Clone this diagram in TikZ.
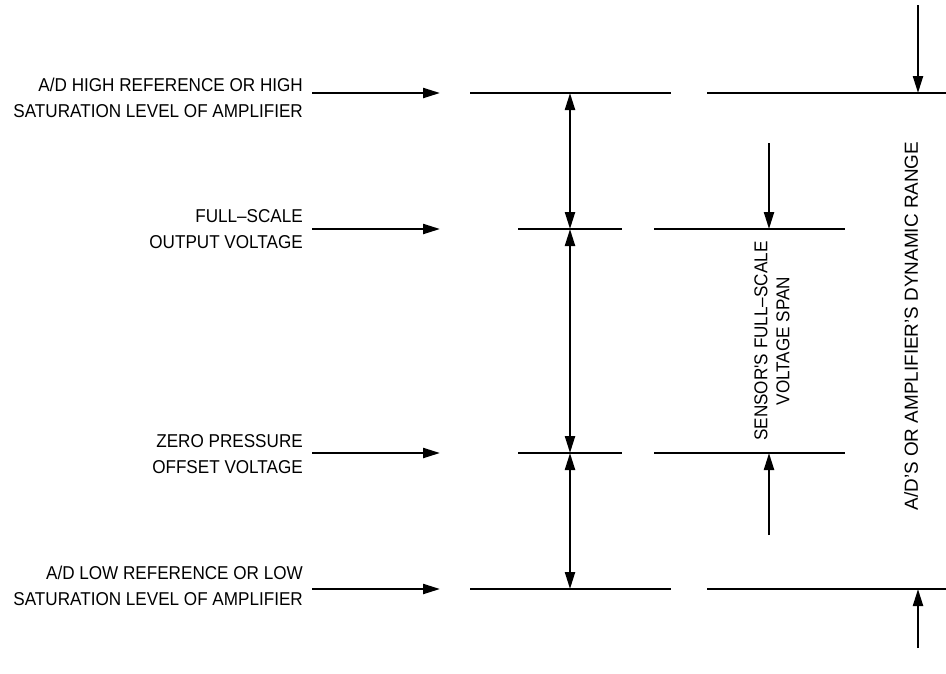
\documentclass[tikz,border=0pt]{standalone}
\usepackage{fontspec}
\setmainfont{Liberation Sans}
\newfontfamily\narrowsans{Liberation Sans}[FakeStretch=0.92]
\usetikzlibrary{arrows.meta}
\begin{document}
\begin{tikzpicture}[x=1pt,y=-1pt,
  lbl/.style={font=\narrowsans\fontsize{18.6}{26}\selectfont, align=right, inner sep=0pt, anchor=east},
  rlbl/.style={font=\narrowsans\fontsize{18.6}{22}\selectfont, align=center, inner sep=0pt, rotate=90},
  dlbl/.style={font=\fontsize{18.9}{22}\selectfont, inner sep=0pt, rotate=90},
  ln/.style={line width=2.2pt},
  tip/.style={},
  arr/.style={line width=2.2pt, -{Triangle[length=17pt,width=10pt]}},
  darr/.style={line width=2.2pt, {Triangle[length=17pt,width=10pt]}-{Triangle[length=17pt,width=10pt]}},
]
\useasboundingbox (0,0) rectangle (946,673);

% labels
\node[lbl] (l1) at (303,98) {A/D HIGH REFERENCE OR HIGH\\SATURATION LEVEL OF AMPLIFIER};
\node[lbl] (l2) at (303,229) {FULL–SCALE\\OUTPUT VOLTAGE};
\node[lbl] (l3) at (303,454) {ZERO PRESSURE\\OFFSET VOLTAGE};
\node[lbl] (l4) at (303,586) {A/D LOW REFERENCE OR LOW\\SATURATION LEVEL OF AMPLIFIER};

% label arrows
\coordinate (a1s) at (312,93);  \coordinate (a1e) at (440,93);
\coordinate (a2s) at (312,229); \coordinate (a2e) at (440,229);
\coordinate (a3s) at (312,453); \coordinate (a3e) at (440,453);
\coordinate (a4s) at (312,589); \coordinate (a4e) at (440,589);
\draw[arr] (a1s) -- (a1e);
\draw[arr] (a2s) -- (a2e);
\draw[arr] (a3s) -- (a3e);
\draw[arr] (a4s) -- (a4e);

% level lines
\coordinate (h1a) at (470,93);  \coordinate (h1b) at (671,93);
\coordinate (h1c) at (707,93);  \coordinate (h1d) at (950,93);
\coordinate (f1a) at (518,229); \coordinate (f1b) at (622,229);
\coordinate (f1c) at (654,229); \coordinate (f1d) at (845,229);
\coordinate (z1a) at (518,453); \coordinate (z1b) at (622,453);
\coordinate (z1c) at (654,453); \coordinate (z1d) at (845,453);
\coordinate (b1a) at (470,589); \coordinate (b1b) at (671,589);
\coordinate (b1c) at (707,589); \coordinate (b1d) at (950,589);
\draw[ln] (h1a) -- (h1b);
\draw[ln] (h1c) -- (h1d);
\draw[ln] (f1a) -- (f1b);
\draw[ln] (f1c) -- (f1d);
\draw[ln] (z1a) -- (z1b);
\draw[ln] (z1c) -- (z1d);
\draw[ln] (b1a) -- (b1b);
\draw[ln] (b1c) -- (b1d);

% double arrows
\coordinate (v1) at (570,93);
\coordinate (v2) at (570,229);
\coordinate (v3) at (570,453);
\coordinate (v4) at (570,589);
\draw[darr] (v1) -- (v2);
\draw[darr] (v2) -- (v3);
\draw[darr] (v3) -- (v4);

% sensor span arrows
\coordinate (s1) at (769,143); \coordinate (s2) at (769,229);
\coordinate (s3) at (769,535); \coordinate (s4) at (769,453);
\draw[arr] (s1) -- (s2);
\draw[arr] (s3) -- (s4);

% dynamic range arrows
\coordinate (d1) at (918,5);   \coordinate (d2) at (918,93);
\coordinate (d3) at (918,648); \coordinate (d4) at (918,589);
\draw[arr] (d1) -- (d2);
\draw[arr] (d3) -- (d4);

% rotated labels
\node[rlbl] (sensor) at (772,341) {SENSOR'S FULL–SCALE\\VOLTAGE SPAN};
\node[dlbl] (dyn) at (911,326) {A/D'S OR AMPLIFIER'S DYNAMIC RANGE};
\end{tikzpicture}
\end{document}
